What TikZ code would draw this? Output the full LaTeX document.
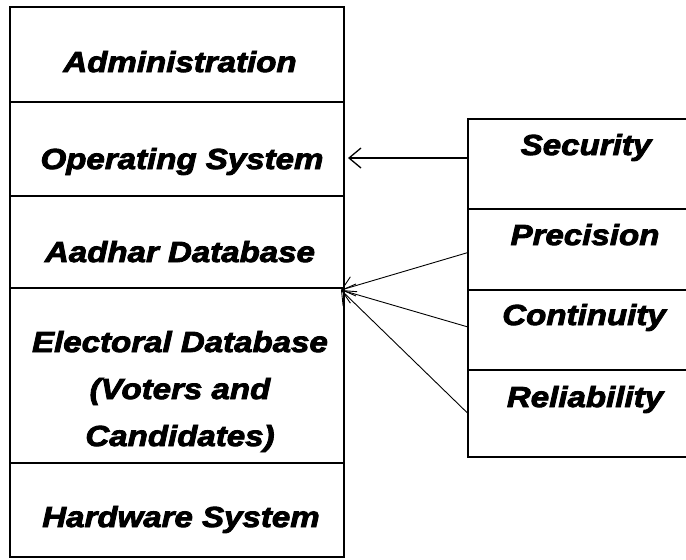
\documentclass[tikz,border=0pt]{standalone}
\usepackage{fontspec}
\setmainfont{Liberation Sans}[FakeStretch=1.14,FakeBold=3]
\usetikzlibrary{arrows.meta,positioning}
\tikzstyle{Cell} = [draw, rectangle, line width=1.5pt, outer sep=0pt, minimum width=334pt, inner sep=0pt]
\tikzstyle{Quality} = [draw, rectangle, line width=1.5pt, outer sep=0pt, minimum width=234pt, inner sep=0pt]
\tikzstyle{Label} = [font=\fontsize{29}{47}\selectfont\bfseries\itshape, anchor=base, inner sep=0pt, align=center]
\tikzstyle{Link} = [-{Straight Barb[length=12pt,width=20pt]}, line width=0.9pt]

\begin{document}
\begin{tikzpicture}[x=1pt,y=-1pt]
    \useasboundingbox (0,0) rectangle (686,560);
    \clip (0,0) rectangle (686,560);
    % layers of the system
    \node[Cell, minimum height=95pt]  (admin)     at (177,54.5)          {};
    \node[Cell, minimum height=94pt]  (os)        [below=0pt of admin]     {};
    \node[Cell, minimum height=92pt]  (aadhar)    [below=0pt of os]        {};
    \node[Cell, minimum height=175pt] (electoral) [below=0pt of aadhar]    {};
    \node[Cell, minimum height=94pt]  (hardware)  [below=0pt of electoral] {};
    \node[Label] (admintext)     at (180,72)  {Administration};
    \node[Label] (ostext)        at (182,169) {Operating System};
    \node[Label] (aadhartext)    at (180,262) {Aadhar Database};
    \node[Label] (electoraltext) at (180,446) {Electoral Database\\(Voters and\\Candidates)};
    \node[Label] (hardwaretext)  at (181,527) {Hardware System};
    % requirements
    \node[Quality, minimum height=90pt] (sec)  at (585,164)          {};
    \node[Quality, minimum height=81pt] (prec) [below=0pt of sec]  {};
    \node[Quality, minimum height=80pt] (cont) [below=0pt of prec] {};
    \node[Quality, minimum height=87pt] (rel)  [below=0pt of cont] {};
    \node[Label] (sectext)  at (586,155) {Security};
    \node[Label] (prectext) at (585,245) {Precision};
    \node[Label] (conttext) at (584,325) {Continuity};
    \node[Label] (reltext)  at (585,407) {Reliability};
    \coordinate (dbtip) at ([xshift=-3pt,yshift=-2pt]electoral.north east);
    \draw[Link, line width=1.3pt] ([yshift=6pt]sec.west) -- ([xshift=4pt,yshift=6pt]sec.west -| os.east);
    \draw[Link] ([yshift=-3pt]prec.west) -- (dbtip);
    \draw[Link] ([yshift=3pt]cont.west) -- (dbtip);
    \draw[Link] (rel.west) -- (dbtip);
\end{tikzpicture}
\end{document}
